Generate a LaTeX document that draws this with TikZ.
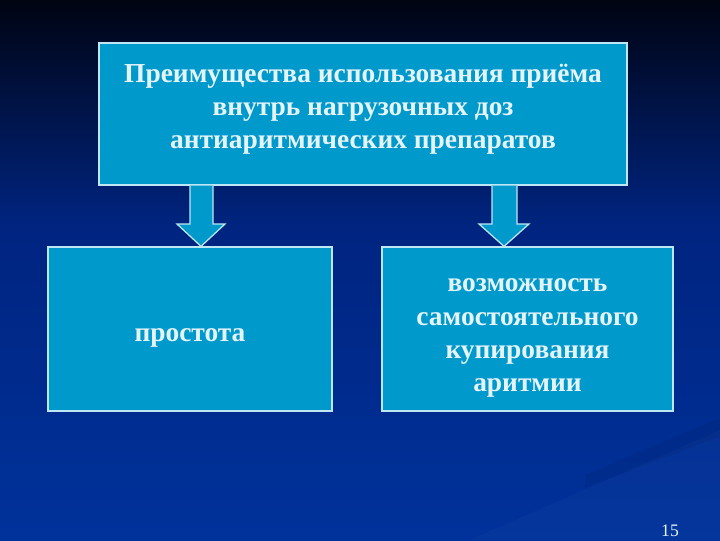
\documentclass[tikz,border=0pt]{standalone}
\usepackage{fontspec}
\setmainfont{Liberation Serif}
\definecolor{boxfill}{RGB}{0,153,204}
\definecolor{boxline}{RGB}{190,230,245}
\definecolor{boxtext}{RGB}{228,244,250}
\definecolor{bgtop}{RGB}{0,4,18}
\definecolor{bgupper}{RGB}{0,18,66}
\definecolor{bgmid}{RGB}{0,36,128}
\definecolor{bgbot}{RGB}{0,50,155}
\pgfdeclareverticalshading{slidebg}{100bp}{color(0bp)=(bgbot); color(25bp)=(bgbot);
  color(54bp)=(bgmid); color(66bp)=(bgupper); color(75bp)=(bgtop); color(100bp)=(bgtop)}
\tikzset{
  slidebox/.style={draw=boxline, line width=0.9pt, fill=boxfill, inner sep=0pt},
  slidetext/.style={text=boxtext, align=center, inner sep=0pt,
    font=\bfseries\fontsize{19.5}{23.5}\selectfont},
  arrowbody/.style={draw=boxline, line width=0.9pt, fill=boxfill, line join=miter}
}
\begin{document}
\begin{tikzpicture}[x=0.025cm,y=-0.025cm]
  \useasboundingbox (0,0) rectangle (720,540);
  % background of the slide:
  \shade[shading=slidebg] (0,0) rectangle (720,540);
  % faint streaks in the lower right corner:
  \fill[black, opacity=0.06] (585,475) -- (720,418) -- (720,436) -- (585,488) -- cycle;
  \fill[white, opacity=0.02] (470,540) -- (720,430) -- (720,540) -- cycle;
  % the three boxes:
  \node[slidebox, minimum width=13.2cm, minimum height=3.55cm] (adv) at (363,114) {};
  \node[slidebox, minimum width=7.1cm, minimum height=4.1cm] (simple) at (190,329) {};
  \node[slidebox, minimum width=7.275cm, minimum height=4.1cm] (self) at (527.5,329) {};
  % their texts:
  \node[slidetext] (advtext) at (363,109)
    {Преимущества использования приёма\\внутрь нагрузочных доз\\антиаритмических препаратов};
  \node[slidetext] (simpletext) at (190,338) {простота};
  \node[slidetext] (selftext) at (527.5,338)
    {возможность\\самостоятельного\\купирования\\аритмии};
  % block arrows from the top box down:
  \draw[arrowbody] (adv.south -| 190,0) -- (190,224) -- (177,224)
    -- (simple.north -| 201,0) -- (225,224) -- (213,224) -- (adv.south -| 213,0);
  \draw[arrowbody] (adv.south -| 492,0) -- (492,224) -- (479,224)
    -- (self.north -| 504,0) -- (529,224) -- (517,224) -- (adv.south -| 517,0);
  % slide number:
  \node[text=boxtext, font=\fontsize{12.5}{14}\selectfont] (pagenum) at (670,531) {15};
\end{tikzpicture}
\end{document}
